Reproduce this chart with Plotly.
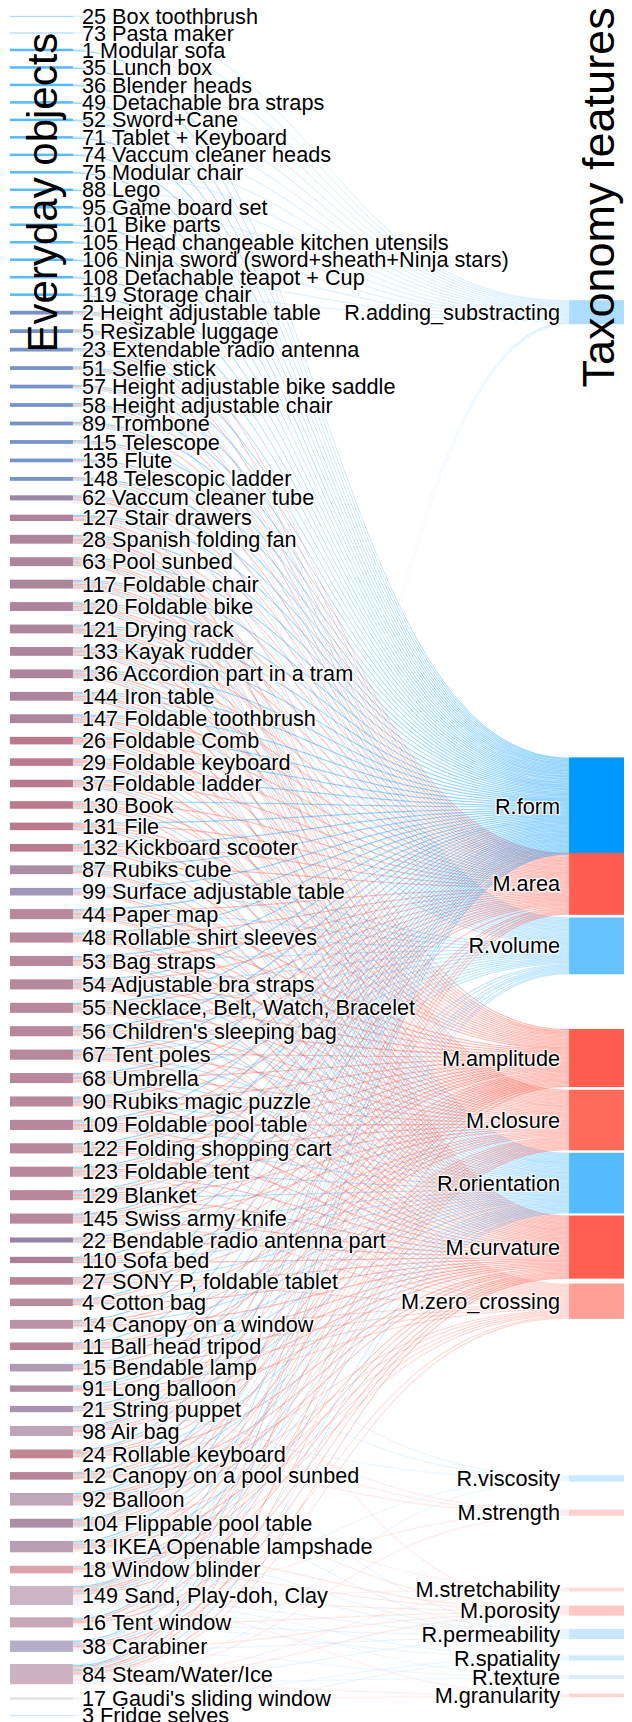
import plotly.graph_objects as go

# ---------------- data ----------------
feature_codes = ["AD", "FO", "AR", "VO", "AM", "CL", "OR", "CU", "ZC",
                 "VI", "ST", "SX", "PO", "PE", "SP", "TE", "GR"]
features = ["R.adding_substracting", "R.form", "M.area", "R.volume", "M.amplitude",
            "M.closure", "R.orientation", "M.curvature", "M.zero_crossing",
            "R.viscosity", "M.strength", "M.stretchability", "M.porosity",
            "R.permeability", "R.spatiality", "R.texture", "M.granularity"]
feature_colors = ["#acdcff", "#0099ff", "#ff5e50", "#66c2ff", "#ff5e4e",
                  "#ff6b5b", "#55bbff", "#ff5f50", "#ff9f95",
                  "#cce8ff", "#ffd0cc", "#ffdad6", "#ffc9c3",
                  "#c8e6ff", "#cfe9ff", "#d6edff", "#ffd6d1"]

objects = [
    "25 Box toothbrush", "73 Pasta maker", "1 Modular sofa", "35 Lunch box",
    "36 Blender heads", "49 Detachable bra straps", "52 Sword+Cane",
    "71 Tablet + Keyboard", "74 Vaccum cleaner heads", "75 Modular chair",
    "88 Lego", "95 Game board set", "101 Bike parts",
    "105 Head changeable kitchen utensils",
    "106 Ninja sword (sword+sheath+Ninja stars)", "108 Detachable teapot + Cup",
    "119 Storage chair", "2 Height adjustable table", "5 Resizable luggage",
    "23 Extendable radio antenna", "51 Selfie stick",
    "57 Height adjustable bike saddle", "58 Height adjustable chair",
    "89 Trombone", "115 Telescope", "135 Flute", "148 Telescopic ladder",
    "62 Vaccum cleaner tube", "127 Stair drawers", "28 Spanish folding fan",
    "63 Pool sunbed", "117 Foldable chair", "120 Foldable bike",
    "121 Drying rack", "133 Kayak rudder", "136 Accordion part in a tram",
    "144 Iron table", "147 Foldable toothbrush", "26 Foldable Comb",
    "29 Foldable keyboard", "37 Foldable ladder", "130 Book", "131 File",
    "132 Kickboard scooter", "87 Rubiks cube", "99 Surface adjustable table",
    "44 Paper map", "48 Rollable shirt sleeves", "53 Bag straps",
    "54 Adjustable bra straps", "55 Necklace, Belt, Watch, Bracelet",
    "56 Children's sleeping bag", "67 Tent poles", "68 Umbrella",
    "90 Rubiks magic puzzle", "109 Foldable pool table",
    "122 Folding shopping cart", "123 Foldable tent", "129 Blanket",
    "145 Swiss army knife", "22 Bendable radio antenna part", "110 Sofa bed",
    "27 SONY P, foldable tablet", "4 Cotton bag", "14 Canopy on a window",
    "11 Ball head tripod", "15 Bendable lamp", "91 Long balloon",
    "21 String puppet", "98 Air bag", "24 Rollable keyboard",
    "12 Canopy on a pool sunbed", "92 Balloon", "104 Flippable pool table",
    "13 IKEA Openable lampshade", "18 Window blinder",
    "149 Sand, Play-doh, Clay", "16 Tent window", "38 Carabiner",
    "84 Steam/Water/Ice", "17 Gaudi's sliding window", "3 Fridge selves",
]

SET_A = "AD FO"
SET_B = "FO VO AR"
SET_D = "FO VO AR AM CL OR CU"
SET_E = "FO OR AR AM CL CU"
SET_F = "FO OR VO AR AM CL CU ZC"

object_links = (
    ["AD", "AD"] + [SET_A] * 15 + [SET_B] * 10 +
    ["FO VO AR AM", "FO VO AR CL CU"] + [SET_D] * 9 + [SET_E] * 6 +
    ["FO OR VO AR CL CU ZC", "FO OR VO CL CU ZC"] + [SET_F] * 14 +
    [
        "FO AM OR CU",                                   # 22
        "FO AM CL OR CU",                                # 110
        "FO AM CL OR CU ZC",                             # 27
        "FO AR CL OR CU PO",                             # 4
        "FO AM CL OR CU ZC VI",                          # 14
        "FO AM CL OR CU ZC",                             # 11
        "FO AM OR CU ZC VI",                             # 15
        "FO VO AM CU ZC",                                # 91
        "FO AM OR CU ST",                                # 21
        "FO VO AR AM CL VI ST PE",                       # 98
        "FO AR AM CL OR CU ST",                          # 24
        "FO AM CL OR CU ZC",                             # 12
        "FO VO OR AM CL CU ZC SX PO PE",                 # 92
        "FO VO AR AM CL OR ZC",                          # 104
        "FO VO OR AM CL CU ZC PO PE",                    # 13
        "CL OR CU ZC PO PE",                             # 18
        "FO VO AR AM CL OR CU VI ST SX PO PE SP TE GR",  # 149
        "AD FO AR CL CU PO PE SP",                       # 16
        "FO VO OR CL CU ZC PO PE TE",                    # 38
        "AD FO VO AR AM CL OR CU ZC VI ST SX PO PE TE GR",  # 84
        "SP GR",                                         # 17
        "SP",                                            # 3
    ]
)

# ---------------- layout constants ----------------
FIG_W, FIG_H = 632, 1722
M_L, M_R, M_T, M_B = 1.5, 7.5, 8, 14
NODE_PAD = 15.5
NODE_THICK = 63
W = FIG_W - M_L - M_R
H = FIG_H - M_T - M_B
NBSP = "\u00a0"


def hex_rgb(h):
    h = h.lstrip("#")
    return tuple(int(h[i:i + 2], 16) for i in (0, 2, 4))


code_idx = {c: i for i, c in enumerate(feature_codes)}
n_obj = len(objects)
n_feat = len(features)

src, tgt, val, link_col = [], [], [], []
obj_value = []
obj_colors = []
obj_sets = []
for i, codes in enumerate(object_links):
    cl = sorted(code_idx[c] for c in codes.split())
    obj_sets.append(cl)
    obj_value.append(len(cl))
    rgbs = [hex_rgb(feature_colors[k]) for k in cl]
    avg = [round(sum(c[j] for c in rgbs) / len(rgbs)) for j in range(3)]
    obj_colors.append("rgb(%d,%d,%d)" % tuple(avg))
    for k in cl:
        src.append(i)
        tgt.append(n_obj + k)
        val.append(1)
        r, g, b = hex_rgb(feature_colors[k])
        link_col.append("rgba(%d,%d,%d,0.4)" % (r, g, b))

feat_value = [0] * n_feat
for t, v in zip(tgt, val):
    feat_value[t - n_obj] += v

total = sum(obj_value)
ky = (H - (n_obj - 1) * NODE_PAD) / total

# left column: stacked in the given order
left_c = []
yy = 0.0
for v in obj_value:
    left_c.append(yy + v * ky / 2)
    yy += v * ky + NODE_PAD

# right column: each feature sits at the mean height of its sources,
# then overlaps are pushed apart (as in the sankey relaxation)
acc = [0.0] * n_feat
cnt = [0.0] * n_feat
for i, cl in enumerate(obj_sets):
    for k in cl:
        acc[k] += left_c[i]
        cnt[k] += 1
desired = [acc[k] / cnt[k] for k in range(n_feat)]
tops = [0.0] * n_feat
yy = 0.0
for k in range(n_feat):
    h = feat_value[k] * ky
    tops[k] = max(desired[k] - h / 2, yy)
    yy = tops[k] + h + NODE_PAD
bottom = H
for k in reversed(range(n_feat)):
    h = feat_value[k] * ky
    if tops[k] + h > bottom:
        tops[k] = bottom - h
    bottom = tops[k] - NODE_PAD
right_c = [tops[k] + feat_value[k] * ky / 2 for k in range(n_feat)]

node_x = [NODE_THICK / 2 / W] * n_obj + [1 - NODE_THICK / 2 / W] * n_feat
node_y = [c / H for c in left_c] + [c / H for c in right_c]

labels = [NBSP + o for o in objects] + [f + NBSP for f in features]

fig = go.Figure(go.Sankey(
    arrangement="fixed",
    node=dict(
        label=labels,
        color=obj_colors + feature_colors,
        pad=NODE_PAD,
        thickness=NODE_THICK,
        line=dict(width=0),
        x=node_x,
        y=node_y,
    ),
    link=dict(source=src, target=tgt, value=val, color=link_col),
    textfont=dict(family="Liberation Sans, Arial, sans-serif", size=21.7, color="black"),
))

fig.update_layout(
    width=FIG_W, height=FIG_H,
    margin=dict(l=M_L, r=M_R, t=M_T, b=M_B),
    paper_bgcolor="white",
    font=dict(family="Liberation Sans, Arial, sans-serif", color="black"),
    annotations=[
        dict(text="Everyday objects", textangle=-90, showarrow=False,
             xref="paper", yref="paper", x=(35 - M_L) / W, y=1 - (184 - M_T) / H,
             xanchor="center", yanchor="middle",
             font=dict(size=42, color="black")),
        dict(text="Taxonomy features", textangle=-90, showarrow=False,
             xref="paper", yref="paper", x=(590 - M_L) / W, y=1 - (190 - M_T) / H,
             xanchor="center", yanchor="middle",
             font=dict(size=45, color="black")),
    ],
)

fig.write_html("out.html")
